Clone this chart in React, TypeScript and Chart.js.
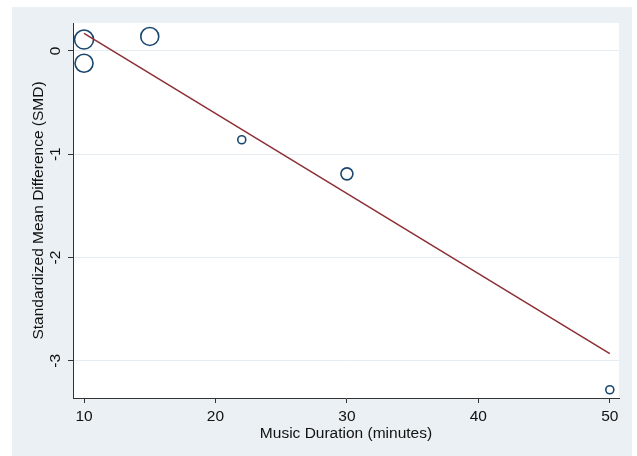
import React, { useEffect, useRef } from 'react';
import { Chart, registerables } from 'chart.js';
Chart.register(...registerables);

const durations = [10, 10, 15, 22, 30, 50];
const smd = [0.11, -0.12, 0.14, -0.86, -1.19, -3.28];
const bubbleRadius = [9.5, 9, 9, 4, 6, 4];
const fitX = [10, 50];
const fitY = [0.17, -2.93];
const xTicks = [10, 20, 30, 40, 50];
const yTicks = [-3, -2, -1, 0];

const OUTER_BG = '#eaf0f3';

const bgPlugin = {
  id: 'bgPlugin',
  beforeDraw(chart: any) {
    const { ctx, chartArea, width, height } = chart;
    ctx.save();
    ctx.fillStyle = '#ffffff';
    ctx.fillRect(0, 0, width, height);
    ctx.fillStyle = OUTER_BG;
    ctx.fillRect(12, 7, 620, height - 7);
    ctx.fillStyle = '#ffffff';
    ctx.fillRect(chartArea.left, chartArea.top, chartArea.right - chartArea.left, chartArea.bottom - chartArea.top);
    ctx.restore();
  },
};

export default function App() {
  const ref = useRef<HTMLCanvasElement>(null);
  useEffect(() => {
    document.body.style.margin = '0';
    const ctx = ref.current!.getContext('2d')!;
    const font = { family: 'Arial, "Liberation Sans", sans-serif', size: 15.5 };
    const chart = new Chart(ctx, {
      type: 'scatter',
      data: {
        datasets: [
          {
            type: 'line',
            data: fitX.map((x, i) => ({ x, y: fitY[i] })),
            borderColor: '#8c2f35',
            borderWidth: 1.5,
            pointRadius: 0,
            fill: false,
          } as any,
          {
            type: 'bubble',
            data: durations.map((x, i) => ({ x, y: smd[i], r: bubbleRadius[i] })),
            backgroundColor: 'rgba(0,0,0,0)',
            borderColor: '#1a476f',
            borderWidth: 1.6,
          } as any,
        ],
      },
      options: {
        animation: false,
        responsive: false,
        events: [],
        layout: { padding: { left: 0, top: 23, right: 18, bottom: 0 } },
        plugins: { legend: { display: false }, tooltip: { enabled: false } },
        scales: {
          x: {
            type: 'linear',
            min: 9.16,
            max: 50.7,
            afterBuildTicks: (s: any) => { s.ticks = xTicks.map((v) => ({ value: v })); },
            afterFit: (s: any) => { s.height = 58; },
            grid: { drawOnChartArea: false, tickLength: 5, tickColor: '#333', lineWidth: 1 },
            border: { color: '#333', width: 1 },
            ticks: { font, color: '#111', padding: 4, maxRotation: 0, minRotation: 0 },
            title: { display: true, text: 'Music Duration (minutes)', font, color: '#111', padding: { top: 0, bottom: 13 } },
          },
          y: {
            type: 'linear',
            min: -3.36,
            max: 0.27,
            afterBuildTicks: (s: any) => { s.ticks = yTicks.map((v) => ({ value: v })); },
            afterFit: (s: any) => { s.width = 73; },
            grid: { color: '#e6edf2', lineWidth: 1, tickLength: 5, tickColor: '#333' },
            border: { color: '#333', width: 1 },
            ticks: { font, color: '#111', padding: 5, minRotation: 90, maxRotation: 90, crossAlign: 'center' },
            title: { display: true, text: 'Standardized Mean Difference (SMD)', font, color: '#111', padding: { top: 29, bottom: 0 } },
          },
        },
      },
      plugins: [bgPlugin],
    } as any);
    return () => chart.destroy();
  }, []);
  return <canvas ref={ref} width={637} height={456} style={{ display: 'block' }} />;
}
